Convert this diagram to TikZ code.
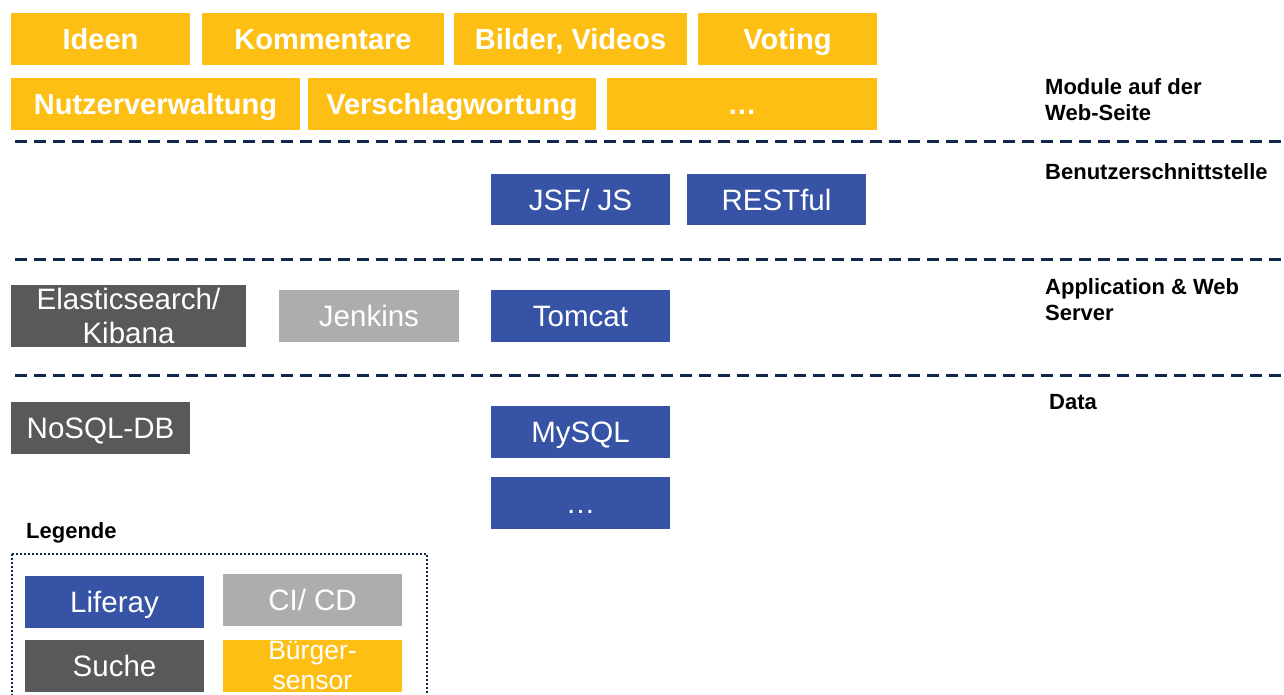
\documentclass[tikz,border=0pt]{standalone}
\usepackage{fontspec}
\setmainfont{Liberation Sans}
\definecolor{ybg}{RGB}{253,191,19}
\definecolor{bbg}{RGB}{54,83,165}
\definecolor{dgbg}{RGB}{88,89,91}
\definecolor{lgbg}{RGB}{172,173,175}
\definecolor{navy}{RGB}{19,41,75}
\tikzset{
  boxbase/.style={inner sep=0pt, outer sep=0pt, text=white, align=center},
  ybox/.style={boxbase, fill=ybg, font=\bfseries\fontsize{29}{33}\selectfont, text height=21pt, text depth=0pt},
  bbox/.style={boxbase, fill=bbg, font=\fontsize{29.5}{33}\selectfont, text height=21pt, text depth=0pt},
  twoline/.style={boxbase},
  layerlabel/.style={anchor=north west, inner sep=0pt, align=left, font=\bfseries\fontsize{22}{26}\selectfont},
  sep/.style={draw=navy, line width=3pt, dash pattern=on 12pt off 7pt},
}
\begin{document}
\begin{tikzpicture}[x=1pt,y=-1pt]
\useasboundingbox (0,0) rectangle (1284,695);
\clip (0,0) rectangle (1284,695);
% Module row 1
\node[ybox, minimum width=179pt, minimum height=52pt] (ideen) at (100.5,39) {Ideen};
\node[ybox, minimum width=242pt, minimum height=52pt] (komm) at (323,39) {Kommentare};
\node[ybox, minimum width=233pt, minimum height=52pt] (bilder) at (570.5,39) {Bilder, Videos};
\node[ybox, minimum width=179pt, minimum height=52pt] (voting) at (787.5,39) {Voting};
% Module row 2
\node[ybox, minimum width=289pt, minimum height=52pt] (nutzer) at (155.5,104) {Nutzerverwaltung};
\node[ybox, minimum width=288pt, minimum height=52pt] (versch) at (452,104) {Verschlagwortung};
\node[ybox, minimum width=270pt, minimum height=52pt] (moddots) at (742,104) {\dots};
% separators
\coordinate (s1a) at (15,142); \coordinate (s1b) at (1284,142);
\coordinate (s2a) at (15,259); \coordinate (s2b) at (1284,259);
\coordinate (s3a) at (15,375); \coordinate (s3b) at (1284,375);
\draw[sep] (s1a) -- (s1b);
\draw[sep] (s2a) -- (s2b);
\draw[sep] (s3a) -- (s3b);
% layer labels
\node[layerlabel] (lmod) at (1045,78) {Module auf der\\Web-Seite};
\node[layerlabel] (lui) at (1045,163) {Benutzerschnittstelle};
\node[layerlabel] (lapp) at (1045,278) {Application \& Web\\Server};
\node[layerlabel] (ldata) at (1049,394) {Data};
% UI
\node[bbox, minimum width=179pt, minimum height=51pt] (jsf) at (580.5,199.5) {JSF/ JS};
\node[bbox, minimum width=179pt, minimum height=51pt] (rest) at (776.5,199.5) {RESTful};
% App server
\node[twoline, fill=dgbg, minimum width=235pt, minimum height=62pt, font=\fontsize{29.5}{34}\selectfont] (elastic) at (128.5,316) {Elasticsearch/\\Kibana};
\node[bbox, fill=lgbg, minimum width=180pt, minimum height=52pt] (jenkins) at (369,316) {Jenkins};
\node[bbox, minimum width=179pt, minimum height=52pt] (tomcat) at (580.5,316) {Tomcat};
% Data
\node[bbox, fill=dgbg, minimum width=179pt, minimum height=52pt] (nosql) at (100.5,428) {NoSQL-DB};
\node[bbox, minimum width=179pt, minimum height=52pt] (mysql) at (580.5,432) {MySQL};
\node[bbox, minimum width=179pt, minimum height=52pt] (datadots) at (580.5,503) {\dots};
% Legend
\node[anchor=base west, inner sep=0pt, font=\bfseries\fontsize{22}{25}\selectfont] (legtitle) at (26,538) {Legende};
\coordinate (lega) at (12,554); \coordinate (legb) at (427,720);
\draw[navy, line width=2pt, dash pattern=on 2pt off 2pt] (lega) rectangle (legb);
\node[bbox, minimum width=179pt, minimum height=52pt] (liferay) at (114.5,602) {Liferay};
\node[bbox, fill=lgbg, minimum width=179pt, minimum height=52pt] (cicd) at (312.5,600) {CI/ CD};
\node[bbox, fill=dgbg, minimum width=179pt, minimum height=52pt] (suche) at (114.5,666) {Suche};
\node[twoline, fill=ybg, minimum width=179pt, minimum height=52pt, font=\fontsize{26.5}{30}\selectfont] (buerger) at (312.5,666) {Bürger-\\sensor};
\end{tikzpicture}
\end{document}
